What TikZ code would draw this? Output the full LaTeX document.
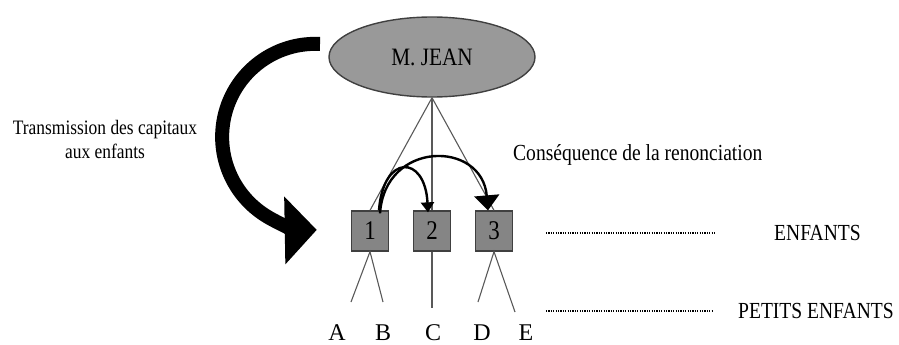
\documentclass[tikz,border=0pt]{standalone}
\usepackage{fontspec}
\setmainfont{Liberation Serif}
\newfontfamily\narrowfont[FakeStretch=0.85]{Liberation Serif}
\usetikzlibrary{shapes.geometric,arrows.meta}
\begin{document}
\begin{tikzpicture}[x=1pt, y=-1pt,
    child/.style={draw=black!75, fill=black!48, line width=1.3pt, minimum width=37pt, minimum height=40pt, inner sep=0pt, font=\narrowfont\fontsize{27}{27}\selectfont},
    branch/.style={draw=black!65, line width=1.1pt},
    letter/.style={anchor=base, inner sep=0pt, font=\fontsize{24}{24}\selectfont},
    dots/.style={line width=1.3pt, dash pattern=on 1.2pt off 1.2pt}]
            \useasboundingbox (0,0) rectangle (899,345);
            \node[ellipse, draw=black!75, fill=black!40, line width=1.4pt, minimum width=206pt, minimum height=80pt, inner sep=0pt, font=\narrowfont\fontsize{25}{25}\selectfont] (jean) at (432,57) {M. JEAN};
            \node[child] (c1) at (370,231) {1};
            \node[child] (c2) at (432,231) {2};
            \node[child] (c3) at (494,231) {3};
            \coordinate (A) at (351,302);
            \coordinate (B) at (383,302);
            \coordinate (C) at (432,308);
            \coordinate (D) at (478,302);
            \coordinate (E) at (515,312);
            \draw[branch] (jean.south)--(c1.north);
            \draw[branch] (jean.south)--(c2.north);
            \draw[branch] (jean.south)--(c3.north);
            \draw[branch] (A)--(c1.south)--(B);
            \draw[branch] (c2.south)--(C);
            \draw[branch] (D)--(c3.south)--(E);
            \node[letter] (la) at (337,340) {A};
            \node[letter] (lb) at (383,340) {B};
            \node[letter] (lc) at (433,340) {C};
            \node[letter] (ld) at (482,340) {D};
            \node[letter] (le) at (526,340) {E};
            % consequence de la renonciation
            \draw[line width=2.4pt, -{Triangle[length=10pt,width=13pt]}] ([xshift=9pt]c1.north) .. controls (383,154) and (425,154) .. ([xshift=-4pt,yshift=-2pt]c2.north);
            \draw[line width=2.4pt, -{Triangle[length=15pt,width=25pt]}] ([xshift=10pt,yshift=-3pt]c1.north) .. controls (385,140) and (482,140) .. ([xshift=-6pt]c3.north);
            % transmission
            \draw[line width=14pt, -{Triangle[length=32pt,width=66pt]}] (320,44) arc[start angle=-87, end angle=-271, radius=93];
            \node[align=center, font=\narrowfont\fontsize{20.5}{24}\selectfont] (trans) at (105,139) {Transmission des capitaux\\aux enfants};
            \node[anchor=west, inner sep=0pt, font=\narrowfont\fontsize{23}{23}\selectfont] (cons) at (513,155) {Conséquence de la renonciation};
            \coordinate (e1) at (546,233);
            \coordinate (e2) at (716,233);
            \coordinate (p1) at (546,311);
            \coordinate (p2) at (713,311);
            \draw[dots] (e1)--(e2);
            \draw[dots] (p1)--(p2);
            \node[anchor=west, inner sep=0pt, font=\narrowfont\fontsize{23}{23}\selectfont] (enf) at (774,233) {ENFANTS};
            \node[anchor=west, inner sep=0pt, font=\narrowfont\fontsize{23}{23}\selectfont] (petits) at (738,311) {PETITS ENFANTS};
        \end{tikzpicture}
\end{document}
